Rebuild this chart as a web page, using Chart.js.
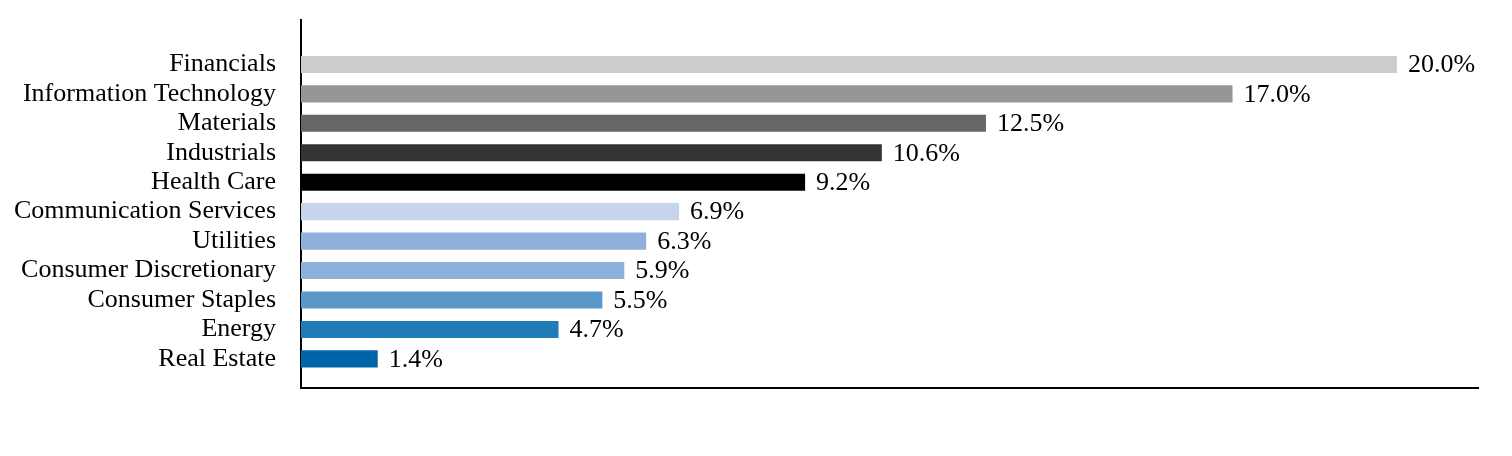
<!DOCTYPE html>
<html>
<head>
<meta charset="utf-8">
<script src="https://cdn.jsdelivr.net/npm/chart.js@4"></script>
<style>
    html, body { margin: 0; padding: 0; background: #ffffff; }
    #wrap { position: relative; width: 1512px; height: 456px; }
</style>
</head>
<body>
<div id="wrap"><canvas id="sectorChart"></canvas></div>
<script>
"use strict";

var categories = [
    "Financials",
    "Information Technology",
    "Materials",
    "Industrials",
    "Health Care",
    "Communication Services",
    "Utilities",
    "Consumer Discretionary",
    "Consumer Staples",
    "Energy",
    "Real Estate"
];

var weights = [20.0, 17.0, 12.5, 10.6, 9.2, 6.9, 6.3, 5.9, 5.5, 4.7, 1.4];

var barColors = [
    "#cccccc",
    "#969696",
    "#666666",
    "#333333",
    "#000000",
    "#c6d5eb",
    "#8fb0da",
    "#8fb0da",
    "#5b97c9",
    "#1f7cb8",
    "#0064a8"
];

var FONT_FAMILY = "'Liberation Serif', 'Times New Roman', serif";
var FONT_SIZE = 26;

// writes the percentage just past the end of every bar
var valueLabels =
{
    id: "valueLabels",
    afterDatasetsDraw: function(chart)
    {
        var ctx = chart.ctx;
        var meta = chart.getDatasetMeta(0);
        ctx.save();
        ctx.font = FONT_SIZE + "px " + FONT_FAMILY;
        ctx.fillStyle = "#000000";
        ctx.textAlign = "left";
        ctx.textBaseline = "middle";
        meta.data.forEach(function(bar, i)
        {
            ctx.fillText(weights[i].toFixed(1) + "%", bar.x + 11, bar.y + 1);
        });
        ctx.restore();
    }
};

var points = weights.map(function(w, i)
{
    return { x: w, y: i };
});

var ctx = document.getElementById("sectorChart").getContext("2d");
var chart = new Chart(ctx,
{
    type: "bar",
    data:
    {
        datasets: [
        {
            data: points,
            backgroundColor: barColors,
            borderWidth: 0,
            categoryPercentage: 1.0,
            barPercentage: 0.58
        }]
    },
    options:
    {
        indexAxis: "y",
        responsive: true,
        maintainAspectRatio: false,
        animation: false,
        layout:
        {
            padding: { top: 20, right: 34, bottom: 0, left: 0 }
        },
        plugins:
        {
            legend: { display: false },
            tooltip: { enabled: false }
        },
        scales:
        {
            x:
            {
                type: "linear",
                min: 0,
                max: 21.48,
                offset: false,
                grid: { display: false, drawTicks: false },
                border: { display: true, color: "#000000", width: 2 },
                ticks: { display: false },
                afterFit: function(axis)
                {
                    axis.height = 68;
                    axis.paddingLeft = 0;
                    axis.paddingRight = 0;
                }
            },
            y:
            {
                type: "linear",
                reverse: true,
                offset: false,
                min: -1.51,
                max: 10.99,
                grid: { display: false, drawTicks: false, offset: false },
                border: { display: true, color: "#000000", width: 2 },
                afterBuildTicks: function(axis)
                {
                    axis.ticks = categories.map(function(c, i)
                    {
                        return { value: i };
                    });
                },
                ticks:
                {
                    autoSkip: false,
                    padding: 25,
                    color: "#000000",
                    font: { family: FONT_FAMILY, size: FONT_SIZE },
                    callback: function(value)
                    {
                        return categories[value];
                    }
                },
                afterFit: function(axis)
                {
                    axis.width = 301;
                    axis.paddingTop = 0;
                    axis.paddingBottom = 0;
                }
            }
        }
    },
    plugins: [valueLabels]
});
</script>
</body>
</html>
